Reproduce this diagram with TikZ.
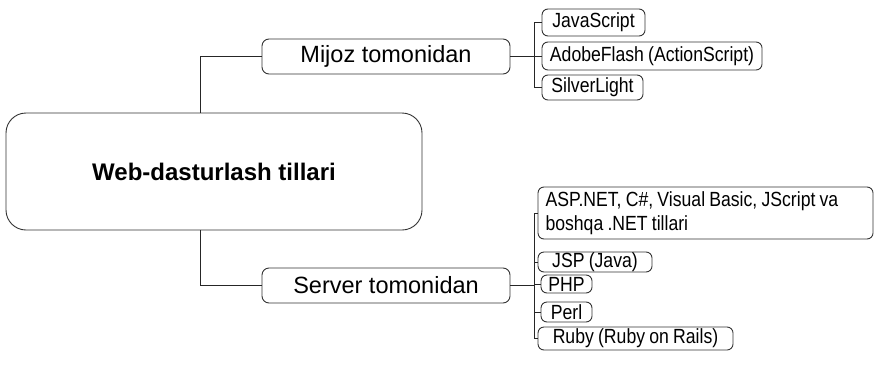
\documentclass[tikz,border=0pt]{standalone}
\usepackage{fontspec}
\setmainfont{Liberation Sans}
\newfontfamily\narrowfont[FakeStretch=0.86,WordSpace=0.86]{Liberation Sans}
\begin{document}
\begin{tikzpicture}[x=1pt,y=-1pt,
  box/.style={draw=black!80,line width=0.9pt,rounded corners=7pt,inner sep=0pt,anchor=center},
  mainbox/.style={box,rounded corners=20pt,minimum width=416pt,minimum height=117pt,font=\fontsize{24}{28}\selectfont\bfseries},
  sidebox/.style={box,minimum width=248pt,minimum height=35pt,font=\fontsize{23.5}{27}\selectfont},
  leaf/.style={box,rounded corners=6pt,font=\narrowfont\fontsize{20.5}{24}\selectfont},
  link/.style={draw=black!85,line width=0.9pt}]
\useasboundingbox (0,0) rectangle (874,375);
\node[mainbox] (main) at (214,171.5) {Web-dasturlash tillari};
\node[sidebox] (mijoz) at (386,56.5) {Mijoz tomonidan};
\node[sidebox] (server) at (386,285.5) {Server tomonidan};
% client leaves
\node[leaf,minimum width=103pt,minimum height=27pt] (js) at (593.5,22.5) {JavaScript};
\node[leaf,minimum width=220pt,minimum height=28pt] (flash) at (652,56) {AdobeFlash (ActionScript)};
\node[leaf,minimum width=101pt,minimum height=25pt] (silver) at (592.5,87.5) {SilverLight};
% server leaves
\node[leaf,minimum width=335pt,minimum height=52pt,text width=320pt,align=flush left,
  font=\narrowfont\fontsize{20.5}{24}\selectfont] (asp) at (705.5,213)
  {ASP.NET, C\#, Visual Basic, JScript va\\boshqa .NET tillari};
\node[leaf,minimum width=114pt,minimum height=20pt] (jsp) at (595,262) {JSP (Java)};
\node[leaf,minimum width=51pt,minimum height=18pt] (php) at (566.5,284) {PHP};
\node[leaf,minimum width=51pt,minimum height=20pt] (perl) at (566.5,312) {Perl};
\node[leaf,minimum width=195pt,minimum height=23pt] (ruby) at (635.5,338.5) {Ruby (Ruby on Rails)};
% junction coordinates
\coordinate (jm) at (200,56.5);
\coordinate (js0) at (200,285.5);
\coordinate (bm) at (534,56.5);
\coordinate (bs) at (534,285.5);
% main to branches
\draw[link] (main.north -| jm) -- (jm) -- (mijoz.west);
\draw[link] (main.south -| js0) -- (js0) -- (server.west);
% client bus
\draw[link] (mijoz.east) -- (bm);
\draw[link] (js.west -| bm) -- (silver.west -| bm);
\draw[link] (js.west -| bm) -- (js.west);
\draw[link] (flash.west -| bm) -- (flash.west);
\draw[link] (silver.west -| bm) -- (silver.west);
% server bus
\draw[link] (server.east) -- (bs);
\draw[link] (asp.west -| bs) -- (ruby.west -| bs);
\draw[link] (asp.west -| bs) -- (asp.west);
\draw[link] (jsp.west -| bs) -- (jsp.west);
\draw[link] (php.west -| bs) -- (php.west);
\draw[link] (perl.west -| bs) -- (perl.west);
\draw[link] (ruby.west -| bs) -- (ruby.west);
\end{tikzpicture}
\end{document}
